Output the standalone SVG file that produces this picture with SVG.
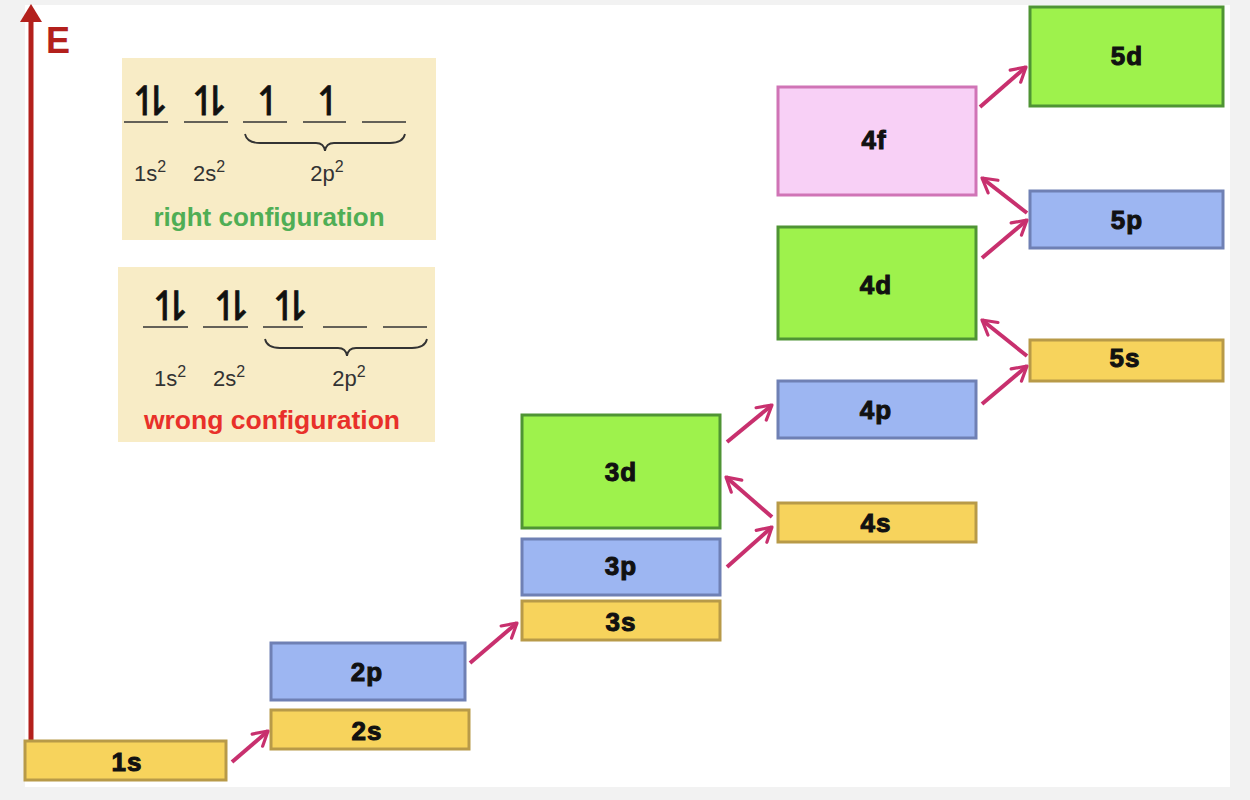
<svg xmlns="http://www.w3.org/2000/svg" width="1250" height="800" viewBox="0 0 1250 800">
<defs>
<style>
.bg{fill:#f2f2f2}
.s{fill:#f7d35c;stroke:#b89a48;stroke-width:3}
.p{fill:#9db6f2;stroke:#6f80b4;stroke-width:3}
.d{fill:#9ef24c;stroke:#4f9434;stroke-width:3}
.f{fill:#f8d0f6;stroke:#d074b6;stroke-width:3}
.lbl{font-family:"Liberation Sans",Arial,sans-serif;font-weight:bold;font-size:26px;fill:#111;stroke:#111;stroke-width:1;text-anchor:middle;letter-spacing:1px}
.con{stroke:#c8306e;stroke-width:4;fill:none;marker-end:url(#ah)}
.panel{fill:#f8ecc6}
.ul{stroke:#333;stroke-width:1.6}
.br{stroke:#333;stroke-width:1.8;fill:none}
.harp{font-family:"DejaVu Sans",sans-serif;font-size:40px;fill:#111;stroke:#111;stroke-width:0.8;letter-spacing:-22px}
.sub{font-family:"Liberation Sans",Arial,sans-serif;font-size:22px;fill:#333;text-anchor:middle}
.sup{font-size:16px}
</style>
<marker id="ah" viewBox="0 0 10 10" refX="8" refY="5" markerWidth="5" markerHeight="5" orient="auto" markerUnits="strokeWidth">
<path d="M1,1 L8,5 L1,9" fill="none" stroke="#c8306e" stroke-width="1.6" stroke-linecap="round" stroke-linejoin="round"/>
</marker>
</defs>
<rect class="bg" x="0" y="0" width="1250" height="800"/>
<rect x="25" y="5" width="1205" height="782" fill="#ffffff"/>

<g id="axis">
<line x1="31" y1="781" x2="31" y2="20" stroke="#b3201c" stroke-width="5"/>
<path d="M20,22 L31,4 L42,22 Z" fill="#b3201c"/>
<text x="46" y="53" font-family="Liberation Sans,Arial,sans-serif" font-weight="bold" font-size="36" fill="#b3201c">E</text>
</g>

<g id="right-config">
<rect class="panel" x="122" y="58" width="314" height="182"/>
<text class="harp" x="128" y="115">↿⇂</text>
<text class="harp" x="187" y="115">↿⇂</text>
<text class="harp" x="252" y="115" fill="#2f8a2a" stroke="#2f8a2a" stroke-width="0">↿</text>
<text class="harp" x="312" y="115" fill="#2f8a2a" stroke="#2f8a2a" stroke-width="0">↿</text>
<line class="ul" x1="124" y1="122" x2="168" y2="122"/>
<line class="ul" x1="184" y1="122" x2="228" y2="122"/>
<line class="ul" x1="243" y1="122" x2="287" y2="122"/>
<line class="ul" x1="303" y1="122" x2="346" y2="122"/>
<line class="ul" x1="362" y1="122" x2="406" y2="122"/>
<path class="br" d="M245,134 Q247,143 260,143 L316,143 Q324,143 325,151 Q326,143 334,143 L390,143 Q403,143 405,134"/>
<text class="sub" x="150" y="181">1s<tspan class="sup" dy="-9">2</tspan></text>
<text class="sub" x="209" y="181">2s<tspan class="sup" dy="-9">2</tspan></text>
<text class="sub" x="327" y="181">2p<tspan class="sup" dy="-9">2</tspan></text>
<text x="269" y="226" font-family="Liberation Sans,Arial,sans-serif" font-weight="bold" font-size="26" fill="#4fae55" text-anchor="middle">right configuration</text>
</g>

<g id="wrong-config">
<rect class="panel" x="118" y="267" width="317" height="175"/>
<text class="harp" x="148" y="320">↿⇂</text>
<text class="harp" x="209" y="320">↿⇂</text>
<text class="harp" x="268" y="320" fill="#b8368e" stroke="#b8368e" stroke-width="0">↿⇂</text>
<line class="ul" x1="143" y1="327" x2="188" y2="327"/>
<line class="ul" x1="203" y1="327" x2="248" y2="327"/>
<line class="ul" x1="263" y1="327" x2="303" y2="327"/>
<line class="ul" x1="323" y1="327" x2="367" y2="327"/>
<line class="ul" x1="383" y1="327" x2="427" y2="327"/>
<path class="br" d="M265,339 Q267,348 280,348 L338,348 Q346,348 347,356 Q348,348 356,348 L412,348 Q425,348 427,339"/>
<text class="sub" x="170" y="386">1s<tspan class="sup" dy="-9">2</tspan></text>
<text class="sub" x="229" y="386">2s<tspan class="sup" dy="-9">2</tspan></text>
<text class="sub" x="349" y="386">2p<tspan class="sup" dy="-9">2</tspan></text>
<text x="272" y="429" font-family="Liberation Sans,Arial,sans-serif" font-weight="bold" font-size="26.5" fill="#e8302a" text-anchor="middle">wrong configuration</text>
</g>

<g id="n1s"><rect class="s" x="25" y="741" width="201" height="39"/><text class="lbl" x="127" y="771">1s</text></g>
<g id="n2s"><rect class="s" x="271" y="710" width="198" height="39"/><text class="lbl" x="367" y="740">2s</text></g>
<g id="n2p"><rect class="p" x="271" y="643" width="194" height="57"/><text class="lbl" x="367" y="681">2p</text></g>
<g id="n3s"><rect class="s" x="522" y="601" width="198" height="39"/><text class="lbl" x="621" y="631">3s</text></g>
<g id="n3p"><rect class="p" x="522" y="539" width="198" height="56"/><text class="lbl" x="621" y="575">3p</text></g>
<g id="n3d"><rect class="d" x="522" y="415" width="198" height="113"/><text class="lbl" x="621" y="481">3d</text></g>
<g id="n4s"><rect class="s" x="778" y="503" width="198" height="39"/><text class="lbl" x="876" y="532">4s</text></g>
<g id="n4p"><rect class="p" x="778" y="381" width="198" height="57"/><text class="lbl" x="876" y="419">4p</text></g>
<g id="n4d"><rect class="d" x="778" y="227" width="198" height="112"/><text class="lbl" x="876" y="294">4d</text></g>
<g id="n4f"><rect class="f" x="778" y="87" width="198" height="108"/><text class="lbl" x="874" y="149">4f</text></g>
<g id="n5s"><rect class="s" x="1030" y="340" width="193" height="41"/><text class="lbl" x="1125" y="367">5s</text></g>
<g id="n5p"><rect class="p" x="1030" y="191" width="193" height="57"/><text class="lbl" x="1127" y="229">5p</text></g>
<g id="n5d"><rect class="d" x="1030" y="7" width="193" height="99"/><text class="lbl" x="1127" y="65">5d</text></g>

<g id="connectors">
<line class="con" x1="232" y1="762" x2="268" y2="731"/>
<line class="con" x1="470" y1="663" x2="517" y2="623"/>
<line class="con" x1="727" y1="567" x2="772" y2="527"/>
<line class="con" x1="772" y1="517" x2="726" y2="477"/>
<line class="con" x1="727" y1="442" x2="772" y2="405"/>
<line class="con" x1="982" y1="404" x2="1027" y2="366"/>
<line class="con" x1="1027" y1="356" x2="982" y2="320"/>
<line class="con" x1="982" y1="258" x2="1027" y2="220"/>
<line class="con" x1="1027" y1="213" x2="982" y2="178"/>
<line class="con" x1="980" y1="107" x2="1026" y2="67"/>
</g>
</svg>
